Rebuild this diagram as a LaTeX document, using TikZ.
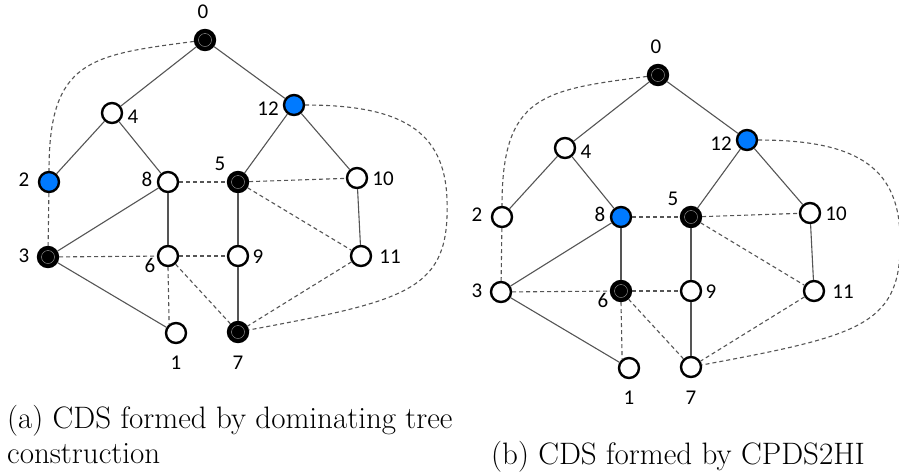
\documentclass[tikz,border=0pt]{standalone}
\usepackage{fontspec}
\newfontfamily\lblfont{Carlito}
\definecolor{cdsblue}{RGB}{0,122,255}
\definecolor{edgegray}{RGB}{85,85,85}
\tikzset{
  vtx/.style={circle, draw=black, line width=2.4pt, fill=white,
    minimum size=20pt, inner sep=0pt},
  blk/.style={fill=black, path picture={\draw[white!65!black, line width=0.4pt]
    (path picture bounding box.center) circle (6.5pt);}},
  blu/.style={fill=cdsblue},
  lbl/.style={font=\lblfont\fontsize{21}{21}\selectfont, inner sep=0pt},
  tedge/.style={draw=edgegray, line width=1.1pt},
  dedge/.style={draw=edgegray, line width=1.1pt, dash pattern=on 4pt off 3pt},
  captext/.style={anchor=base west, inner sep=0pt,
    font=\fontsize{31}{35}\selectfont},
  c0/.style={}, c1/.style={}, c2/.style={}, c3/.style={}, c4/.style={},
  c5/.style={}, c6/.style={}, c7/.style={}, c8/.style={}, c9/.style={},
  c10/.style={}, c11/.style={}, c12/.style={}
}
% One graph of 13 vertices; #1 is the prefix of the node names
\newcommand\cdsgraph[1]{%
  \node[vtx,c0]  (#1n0)  at (205,40)  {};
  \node[vtx,c4]  (#1n4)  at (112,113) {};
  \node[vtx,c12] (#1n12) at (294,105) {};
  \node[vtx,c2]  (#1n2)  at (49,182)  {};
  \node[vtx,c8]  (#1n8)  at (168,182) {};
  \node[vtx,c5]  (#1n5)  at (238,182) {};
  \node[vtx,c10] (#1n10) at (357,178) {};
  \node[vtx,c3]  (#1n3)  at (48,257)  {};
  \node[vtx,c6]  (#1n6)  at (168,256) {};
  \node[vtx,c9]  (#1n9)  at (238,256) {};
  \node[vtx,c11] (#1n11) at (361,256) {};
  \node[vtx,c1]  (#1n1)  at (176,333) {};
  \node[vtx,c7]  (#1n7)  at (238,332) {};
  % vertex numbers
  \node[lbl] (#1t0)  at (203,12)  {0};
  \node[lbl] (#1t4)  at (133,117) {4};
  \node[lbl] (#1t12) at (268,109) {12};
  \node[lbl] (#1t2)  at (24,180)  {2};
  \node[lbl] (#1t8)  at (147,179) {8};
  \node[lbl] (#1t5)  at (220,164) {5};
  \node[lbl] (#1t10) at (383,179) {10};
  \node[lbl] (#1t3)  at (24,256)  {3};
  \node[lbl] (#1t6)  at (150,265) {6};
  \node[lbl] (#1t9)  at (258,257) {9};
  \node[lbl] (#1t11) at (390,257) {11};
  \node[lbl] (#1t1)  at (176,363) {1};
  \node[lbl] (#1t7)  at (238,363) {7};
  % tree edges
  \draw[tedge] (#1n0) -- (#1n4);
  \draw[tedge] (#1n0) -- (#1n12);
  \draw[tedge] (#1n4) -- (#1n2);
  \draw[tedge] (#1n4) -- (#1n8);
  \draw[tedge] (#1n12) -- (#1n5);
  \draw[tedge] (#1n12) -- (#1n10);
  \draw[tedge] (#1n8) -- (#1n3);
  \draw[tedge] (#1n8) -- (#1n6);
  \draw[tedge] (#1n5) -- (#1n9);
  \draw[tedge] (#1n10) -- (#1n11);
  \draw[tedge] (#1n3) -- (#1n1);
  \draw[tedge] (#1n9) -- (#1n7);
  % remaining links
  \draw[dedge] (#1n2) -- (#1n3);
  \draw[dedge] (#1n8) -- (#1n5);
  \draw[dedge] (#1n5) -- (#1n10);
  \draw[dedge] (#1n5) -- (#1n11);
  \draw[dedge] (#1n3) -- (#1n6);
  \draw[dedge] (#1n6) -- (#1n9);
  \draw[dedge] (#1n6.south) -- (#1n1.128);
  \draw[dedge] (#1n6) -- (#1n7);
  \draw[dedge] (#1n11) -- (#1n7);
  \draw[dedge] (#1n0) .. controls (90,55) and (49,60) .. (#1n2);
  \coordinate (#1bend) at (447,200);
  \draw[dedge] (#1n12) .. controls (400,105) and (445,130) .. (#1bend)
    .. controls (450,290) and (410,300) .. (#1n7);
}
\begin{document}
\begin{tikzpicture}[x=1pt, y=-1pt]
  \useasboundingbox (0,0) rectangle (899,475);
  \begin{scope}[c0/.style=blk, c12/.style=blu, c2/.style=blu,
      c5/.style=blk, c3/.style=blk, c7/.style=blk]
    \cdsgraph{a}
  \end{scope}
  \begin{scope}[shift={(453,35)}, c0/.style=blk, c12/.style=blu,
      c8/.style=blu, c5/.style=blk, c6/.style=blk]
    \cdsgraph{b}
  \end{scope}
  \node[captext] (capa1) at (7,428) {(a) CDS formed by dominating tree};
  \node[captext] (capa2) at (7,463) {construction};
  \node[captext] (capb)  at (491,464) {(b) CDS formed by CPDS2HI};
\end{tikzpicture}
\end{document}
